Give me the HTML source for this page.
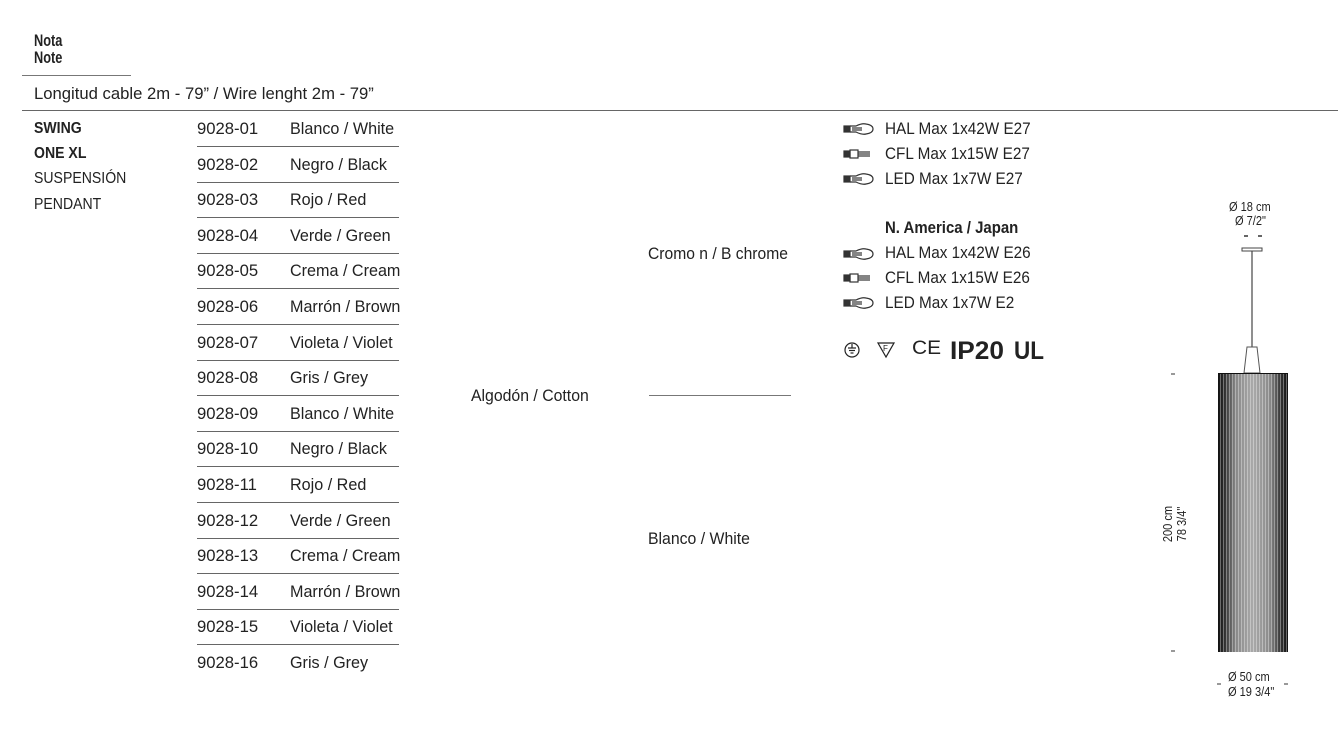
<!DOCTYPE html>
<html><head><meta charset="utf-8"><style>
html,body{margin:0;padding:0;background:#fff;}
body{width:1338px;height:750px;position:relative;overflow:hidden;font-family:"Liberation Sans",sans-serif;color:#222;}
.t{position:absolute;white-space:nowrap;font-size:17px;line-height:20px;transform:scaleX(.93);transform-origin:left center;}
.b{font-weight:bold;}
.hl{position:absolute;height:1px;background:#555;}
.ic{position:absolute;}
</style></head><body>
<div class="t b" style="left:34px;top:32px;font-size:17px;line-height:17px;transform:scaleX(.75)">Nota<br>Note</div>
<div class="hl" style="left:22px;top:75px;width:109px;background:#777"></div>
<div class="t" style="left:34px;top:84px;transform:scaleX(.98)">Longitud cable 2m - 79” / Wire lenght 2m - 79”</div>
<div class="hl" style="left:22px;top:110px;width:1316px;background:#666"></div>

<div class="t b" style="left:34px;top:119px;font-size:16px;transform:scaleX(.88)">SWING</div>
<div class="t b" style="left:34px;top:144px;font-size:16px;transform:scaleX(.88)">ONE XL</div>
<div class="t" style="left:34px;top:169px;font-size:16px;transform:scaleX(.88)">SUSPENSIÓN</div>
<div class="t" style="left:34px;top:195px;font-size:16px;transform:scaleX(.88)">PENDANT</div>

<div id="rows"></div>
<script>
var n=["Blanco / White","Negro / Black","Rojo / Red","Verde / Green","Crema / Cream","Marrón / Brown","Violeta / Violet","Gris / Grey"];
var h="";
for(var i=0;i<16;i++){var y=129+i*35.6;var c=(i+1<10?"0":"")+(i+1);
h+='<div class="t" style="left:197px;top:'+(y-10)+'px;transform:scaleX(.98)">9028-'+c+'</div>';
h+='<div class="t" style="left:290px;top:'+(y-10)+'px;transform:scaleX(.95)">'+n[i%8]+'</div>';
if(i<15)h+='<div class="hl" style="left:197px;top:'+Math.round(y+17)+'px;width:202px;background:#666"></div>';}
document.getElementById("rows").innerHTML=h;
</script>

<div class="t" style="left:471px;top:386px">Algodón / Cotton</div>
<div class="t" style="left:648px;top:244px;transform:scaleX(.92)">Cromo n / B chrome</div>
<div class="hl" style="left:649px;top:395px;width:142px;background:#777"></div>
<div class="t" style="left:648px;top:529px">Blanco / White</div>

<svg class="ic" style="left:840px;top:118px" width="50" height="200" viewBox="0 0 50 200">
<g fill="none" stroke="#333" stroke-width="1.2">
<g transform="translate(0,11)"><rect x="4" y="-3" width="6" height="6" fill="#333"/><path d="M10-3 L16-3 Q22-6 26-5 Q33-4 33 0 Q33 4 26 5 Q22 6 16 3 L10 3"/><line x1="12" y1="-1" x2="22" y2="-1"/><line x1="12" y1="1" x2="22" y2="1"/></g>
<g transform="translate(0,36)"><rect x="4" y="-3" width="6" height="6" fill="#333"/><rect x="10" y="-4" width="8" height="8"/><line x1="18" y1="-2" x2="30" y2="-2"/><line x1="18" y1="0" x2="30" y2="0"/><line x1="18" y1="2" x2="30" y2="2"/></g>
<g transform="translate(0,61)"><rect x="4" y="-3" width="6" height="6" fill="#333"/><path d="M10-3 L16-3 Q22-6 26-5 Q33-4 33 0 Q33 4 26 5 Q22 6 16 3 L10 3"/><line x1="12" y1="-1" x2="22" y2="-1"/><line x1="12" y1="1" x2="22" y2="1"/></g>
<g transform="translate(0,136)"><rect x="4" y="-3" width="6" height="6" fill="#333"/><path d="M10-3 L16-3 Q22-6 26-5 Q33-4 33 0 Q33 4 26 5 Q22 6 16 3 L10 3"/><line x1="12" y1="-1" x2="22" y2="-1"/><line x1="12" y1="1" x2="22" y2="1"/></g>
<g transform="translate(0,160)"><rect x="4" y="-3" width="6" height="6" fill="#333"/><rect x="10" y="-4" width="8" height="8"/><line x1="18" y1="-2" x2="30" y2="-2"/><line x1="18" y1="0" x2="30" y2="0"/><line x1="18" y1="2" x2="30" y2="2"/></g>
<g transform="translate(0,185)"><rect x="4" y="-3" width="6" height="6" fill="#333"/><path d="M10-3 L16-3 Q22-6 26-5 Q33-4 33 0 Q33 4 26 5 Q22 6 16 3 L10 3"/><line x1="12" y1="-1" x2="22" y2="-1"/><line x1="12" y1="1" x2="22" y2="1"/></g>
</g></svg>
<div class="t" style="left:885px;top:119px;transform:scaleX(.9)">HAL Max 1x42W E27</div>
<div class="t" style="left:885px;top:144px;transform:scaleX(.9)">CFL Max 1x15W E27</div>
<div class="t" style="left:885px;top:169px;transform:scaleX(.9)">LED Max 1x7W E27</div>
<div class="t b" style="left:885px;top:218px;transform:scaleX(.88)">N. America / Japan</div>
<div class="t" style="left:885px;top:243px;transform:scaleX(.9)">HAL Max 1x42W E26</div>
<div class="t" style="left:885px;top:268px;transform:scaleX(.9)">CFL Max 1x15W E26</div>
<div class="t" style="left:885px;top:293px;transform:scaleX(.9)">LED Max 1x7W E2</div>

<svg class="ic" style="left:840px;top:336px" width="70" height="30">
<g fill="none" stroke="#222" stroke-width="1.2">
<circle cx="12" cy="14" r="7"/><line x1="12" y1="8" x2="12" y2="12"/><line x1="8" y1="12" x2="16" y2="12"/><line x1="9" y1="14.5" x2="15" y2="14.5"/><line x1="10.5" y1="17" x2="13.5" y2="17"/>
<path d="M38 7 L54 7 L46 21 Z"/>
</g>
<text x="43" y="15" font-size="8" font-family="Liberation Sans" fill="#222">F</text>
</svg>
<div class="t" style="left:912px;top:339px;font-size:19px;transform:scaleX(1.1)">CE</div>
<div class="t b" style="left:950px;top:336px;font-size:25px;line-height:30px;transform:scaleX(1.05)">IP20</div>
<div class="t b" style="left:1014px;top:336px;font-size:25px;line-height:30px;transform:scaleX(.9)">UL</div>

<div class="t" style="left:1229px;top:199px;font-size:13px;line-height:15px;transform:scaleX(.85)">Ø 18 cm</div>
<div class="t" style="left:1235px;top:213px;font-size:13px;line-height:15px;transform:scaleX(.85)">Ø 7/2"</div>
<div class="t" style="left:1228px;top:669px;font-size:13px;line-height:15px;transform:scaleX(.85)">Ø 50 cm</div>
<div class="t" style="left:1228px;top:684px;font-size:13px;line-height:15px;transform:scaleX(.85)">Ø 19 3/4"</div>
<div class="t" style="left:1150px;top:510px;font-size:13px;line-height:14px;transform:rotate(-90deg) scaleX(.85);transform-origin:center;width:50px;text-align:center">200 cm<br>78 3/4"</div>

<svg class="ic" style="left:1160px;top:230px" width="140" height="470">
<defs><linearGradient id="g" x1="0" x2="1">
<stop offset="0" stop-color="#111"/><stop offset=".1" stop-color="#333"/><stop offset=".25" stop-color="#888"/><stop offset=".5" stop-color="#aaa"/><stop offset=".75" stop-color="#888"/><stop offset=".9" stop-color="#333"/><stop offset="1" stop-color="#111"/></linearGradient>
<pattern id="p" width="3" height="10" patternUnits="userSpaceOnUse"><rect width="1" height="10" fill="#fff" opacity=".35"/></pattern></defs>
<line x1="84" y1="6" x2="88" y2="6" stroke="#333" stroke-width="1.5"/><line x1="98" y1="6" x2="102" y2="6" stroke="#333" stroke-width="1.5"/>
<rect x="82" y="18" width="20" height="3" fill="#fff" stroke="#444"/>
<line x1="92" y1="21" x2="92" y2="117" stroke="#444" stroke-width="1.2"/>
<path d="M87 117 L97 117 L100 143 L84 143 Z" fill="#fff" stroke="#555"/>
<rect x="58" y="143" width="70" height="279" fill="url(#g)"/>
<rect x="58" y="143" width="70" height="279" fill="url(#p)"/>
<line x1="58" y1="143.5" x2="128" y2="143.5" stroke="#111"/>
<line x1="11" y1="144" x2="15" y2="144" stroke="#333"/>
<line x1="11" y1="421" x2="15" y2="421" stroke="#333"/>
<line x1="57" y1="454" x2="61" y2="454" stroke="#333"/><line x1="124" y1="454" x2="128" y2="454" stroke="#333"/>
</svg>
</body></html>
